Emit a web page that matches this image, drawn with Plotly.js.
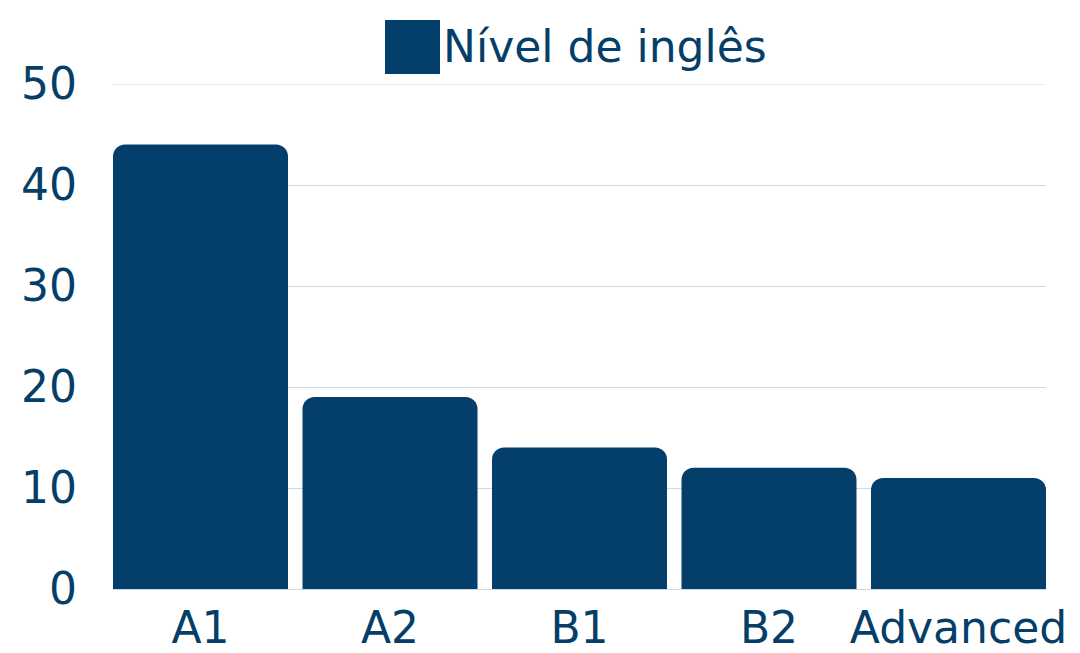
<!DOCTYPE html>
<html>
<head>
<meta charset="utf-8">
<script src="https://cdn.plot.ly/plotly-3.0.1.min.js"></script>
<style>html,body{margin:0;padding:0;background:#fff;}#chart{width:1080px;height:653px;}</style>
</head>
<body>
<div id="chart"></div>
<script>
const categories = ["A1", "A2", "B1", "B2", "Advanced"];
const values = [44, 19, 14, 12, 11];
const seriesName = "Nível de inglês";
const yTicks = [0, 10, 20, 30, 40, 50];

const barColor = "#033f6a";
const textColor = "#053f69";
const gridColor = "#cfd9e3";
const fontFamily = "'DejaVu Sans', sans-serif";
const bargap = 0.0765;
const yMax = yTicks[yTicks.length - 1];

const traces = [
  {
    type: "bar",
    x: categories,
    y: values,
    name: seriesName,
    showlegend: false,
    marker: { color: barColor, cornerradius: 12 },
    hoverinfo: "x+y"
  }
];

const layout = {
  width: 1080,
  height: 653,
  paper_bgcolor: "#ffffff",
  plot_bgcolor: "#ffffff",
  margin: { l: 113, r: 34, t: 84, b: 64 },
  bargap: bargap,
  font: { family: fontFamily, color: textColor, size: 44 },
  showlegend: false,
  shapes: [
    {
      type: "line",
      xref: "paper", yref: "y",
      x0: 0, x1: 1, y0: yMax, y1: yMax,
      line: { color: gridColor, width: 1 },
      layer: "below"
    },
    {
      type: "rect",
      xref: "paper", yref: "paper",
      x0: (385 - 113) / 933, x1: (440 - 113) / 933,
      y0: (589 - 74) / 505, y1: (589 - 20) / 505,
      fillcolor: barColor,
      line: { width: 0 }
    }
  ],
  annotations: [
    {
      text: seriesName,
      xref: "paper", yref: "paper",
      x: (441 - 113) / 933, xanchor: "left",
      y: (589 - 47) / 505, yanchor: "middle",
      showarrow: false,
      font: { family: fontFamily, size: 44, color: textColor }
    }
  ],
  xaxis: {
    type: "category",
    categoryorder: "array",
    categoryarray: categories,
    range: [-0.5 + bargap / 2, categories.length - 0.5 - bargap / 2],
    tickfont: { size: 44, color: textColor, family: fontFamily },
    showgrid: false,
    showline: false,
    zeroline: false,
    ticks: "",
    ticklabelstandoff: 9
  },
  yaxis: {
    range: [0, yMax],
    tickvals: yTicks,
    ticktext: yTicks.map(String),
    tickfont: { size: 44, color: textColor, family: fontFamily },
    showgrid: true,
    gridcolor: gridColor,
    gridwidth: 1,
    zeroline: true,
    zerolinecolor: gridColor,
    showline: false,
    ticks: "",
    ticklabelstandoff: 35
  }
};

Plotly.newPlot("chart", traces, layout, { displayModeBar: false, responsive: false });
</script>
</body>
</html>
